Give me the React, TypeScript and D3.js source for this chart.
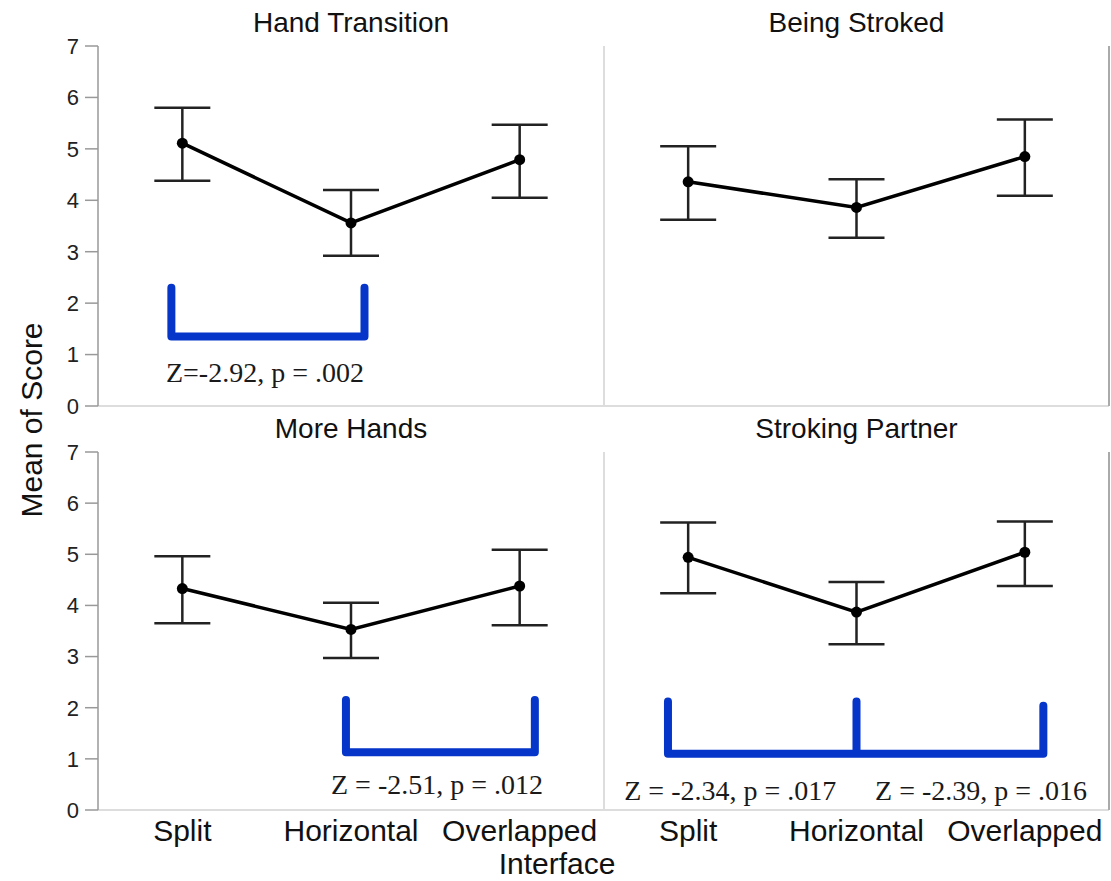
import * as d3 from 'd3';

// categories on the x axis
const categories = ['Split', 'Horizontal', 'Overlapped'];
// panel titles, row by row
const panelTitles = ['Hand Transition', 'Being Stroked', 'More Hands', 'Stroking Partner'];
// mean of score per panel
const means = [
  [5.11, 3.56, 4.79],
  [4.36, 3.86, 4.85],
  [4.33, 3.53, 4.38],
  [4.94, 3.87, 5.04],
];
// error bar bounds
const lower = [
  [4.38, 2.92, 4.05],
  [3.62, 3.27, 4.09],
  [3.65, 2.97, 3.61],
  [4.24, 3.24, 4.38],
];
const upper = [
  [5.8, 4.2, 5.47],
  [5.05, 4.41, 5.57],
  [4.96, 4.05, 5.09],
  [5.62, 4.46, 5.64],
];
const yTicks = [0, 1, 2, 3, 4, 5, 6, 7];

// significance brackets: legs as [category position, top value], base value
const bracketLegs = [
  [[-0.065, 2.3], [1.08, 2.3]],
  [],
  [[0.97, 2.15], [2.09, 2.15]],
  [[-0.12, 2.12], [1.0, 2.12], [2.11, 2.04]],
];
const bracketBase = [1.35, 0, 1.13, 1.1];
// annotation texts: [panel, category position, value, text]
const notes: [number, number, number, string][] = [
  [0, 0.49, 0.46, 'Z=-2.92, p = .002'],
  [2, 1.51, 0.31, 'Z = -2.51, p = .012'],
  [3, 0.25, 0.2, 'Z = -2.34, p = .017'],
  [3, 1.74, 0.2, 'Z = -2.39, p = .016'],
];

const W = 1111;
const H = 881;
const cols = [[98, 604], [604, 1109]];
const rows = [[46, 406], [452, 810]];
const blue = '#0535c9';
const sans = '"Liberation Sans", Arial, sans-serif';
const serif = '"Liberation Serif", "Times New Roman", serif';

export default function App() {
  const panels = panelTitles.map((title, i) => {
    const [x0, x1] = cols[i % 2];
    const [y0, y1] = rows[Math.floor(i / 2)];
    const x = d3.scaleBand().domain(categories).range([x0, x1]);
    const xi = d3.scaleLinear().domain([0, 1]).range([x(categories[0])! + x.bandwidth() / 2, x(categories[1])! + x.bandwidth() / 2]);
    const y = d3.scaleLinear().domain([0, 7]).range([y1, y0]);
    const line = d3.line<number>().x((_, j) => xi(j)).y(d => y(d));
    const legs = bracketLegs[i];
    let bracketPath = '';
    if (legs.length) {
      const first = legs[0];
      const last = legs[legs.length - 1];
      bracketPath = `M${xi(first[0])},${y(first[1])}V${y(bracketBase[i])}H${xi(last[0])}V${y(last[1])}`;
      legs.slice(1, -1).forEach(l => {
        bracketPath += `M${xi(l[0])},${y(l[1])}V${y(bracketBase[i])}`;
      });
    }
    return (
      <g key={title}>
        <text x={(x0 + x1) / 2} y={y0 - 14} textAnchor="middle" fontFamily={sans} fontSize={28} fill="#111">{title}</text>
        {/* frame */}
        <line x1={x0} x2={x1} y1={y1} y2={y1} stroke="#ddd" strokeWidth={2} />
        {i % 2 === 1 && <line x1={x0} x2={x0} y1={y0} y2={y1} stroke="#ddd" strokeWidth={2} />}
        {i % 2 === 1 && <line x1={x1} x2={x1} y1={y0} y2={y1} stroke="#aaa" strokeWidth={2} />}
        {i % 2 === 0 && (
          <g>
            <line x1={x0} x2={x0} y1={y0} y2={y1} stroke="#999" strokeWidth={1.5} />
            {yTicks.map(t => (
              <g key={t}>
                <line x1={x0 - 13} x2={x0} y1={y(t)} y2={y(t)} stroke="#999" strokeWidth={1.5} />
                <text x={x0 - 19} y={y(t)} dy="0.36em" textAnchor="end" fontFamily={sans} fontSize={22} fill="#222">{t}</text>
              </g>
            ))}
          </g>
        )}
        {/* error bars */}
        {categories.map((c, j) => (
          <g key={c} stroke="#222" strokeWidth={2.5}>
            <line x1={xi(j)} x2={xi(j)} y1={y(lower[i][j])} y2={y(upper[i][j])} />
            <line x1={xi(j) - 28} x2={xi(j) + 28} y1={y(lower[i][j])} y2={y(lower[i][j])} />
            <line x1={xi(j) - 28} x2={xi(j) + 28} y1={y(upper[i][j])} y2={y(upper[i][j])} />
          </g>
        ))}
        <path d={line(means[i]) ?? ''} fill="none" stroke="#000" strokeWidth={3.5} />
        {means[i].map((m, j) => (
          <circle key={j} cx={xi(j)} cy={y(m)} r={5.5} fill="#000" />
        ))}
        {bracketPath && (
          <path d={bracketPath} fill="none" stroke={blue} strokeWidth={8} strokeLinecap="round" strokeLinejoin="round" />
        )}
        {notes.filter(n => n[0] === i).map(n => (
          <text key={n[3]} x={xi(n[1])} y={y(n[2])} textAnchor="middle" fontFamily={serif} fontSize={28} fill="#1a1a1a">{n[3]}</text>
        ))}
        {i >= 2 && categories.map(c => (
          <text key={c} x={x(c)! + x.bandwidth() / 2} y={y1 + 31} textAnchor="middle" fontFamily={sans} fontSize={30} fill="#111">{c}</text>
        ))}
      </g>
    );
  });

  return (
    <svg width={W} height={H} style={{ position: 'absolute', left: 0, top: 0, background: '#fff' }}>
      <rect width={W} height={H} fill="#fff" />
      {panels}
      <text x={557} y={874} textAnchor="middle" fontFamily={sans} fontSize={30} fill="#111">Interface</text>
      <text transform={`translate(42,${420}) rotate(-90)`} textAnchor="middle" fontFamily={sans} fontSize={30} fill="#111">Mean of Score</text>
    </svg>
  );
}
